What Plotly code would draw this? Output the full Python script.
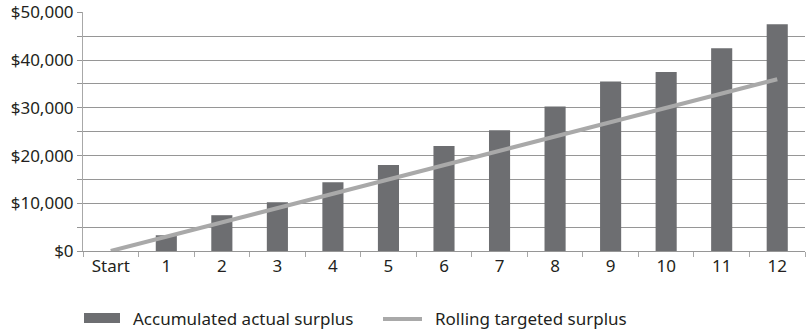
import plotly.graph_objects as go

categories = ["Start", "1", "2", "3", "4", "5", "6", "7", "8", "9", "10", "11", "12"]
actual_surplus = [None, 3300, 7500, 10200, 14400, 18000, 22000, 25300, 30300, 35500, 37500, 42500, 47500]
targeted_surplus = [0, 3000, 6000, 9000, 12000, 15000, 18000, 21000, 24000, 27000, 30000, 33000, 36000]
y_tickvals = [0, 10000, 20000, 30000, 40000, 50000]
y_ticktext = ["$0", "$10,000", "$20,000", "$30,000", "$40,000", "$50,000"]
series_names = ["Accumulated actual surplus", "Rolling targeted surplus"]

FONT = "Noto Sans"
GRID = "#969696"
AXIS = "#a8a8a8"
TEXT = "#231f20"
BAR = "#6d6e71"
LINE = "#a9a9a9"

W, H = 806, 333
L, R, T, B = 83, 1, 12, 82
PW, PH = W - L - R, H - T - B


def px(x):
    return (x - L) / PW


def py(y):
    return (H - B - y) / PH


fig = go.Figure()
fig.add_trace(go.Bar(
    x=categories, y=actual_surplus, name=series_names[0],
    marker=dict(color=BAR, line=dict(width=0)), width=0.38,
))
fig.add_trace(go.Scatter(
    x=categories, y=targeted_surplus, name=series_names[1],
    mode="lines", line=dict(color=LINE, width=4),
))

# manual legend
fig.add_shape(type="rect", xref="paper", yref="paper",
              x0=px(84), x1=px(120), y0=py(323), y1=py(313),
              fillcolor=BAR, line=dict(width=0))
fig.add_shape(type="line", xref="paper", yref="paper",
              x0=px(383), x1=px(422), y0=py(319), y1=py(319),
              line=dict(color=LINE, width=4))
fig.add_annotation(text=series_names[0], xref="paper", yref="paper",
                   x=px(131), y=py(318), xanchor="left", yanchor="middle",
                   showarrow=False, font=dict(family=FONT, size=17, color=TEXT))
fig.add_annotation(text=series_names[1], xref="paper", yref="paper",
                   x=px(433), y=py(318), xanchor="left", yanchor="middle",
                   showarrow=False, font=dict(family=FONT, size=17, color=TEXT))

fig.update_layout(
    width=W, height=H,
    margin=dict(l=L, r=R, t=T, b=B),
    paper_bgcolor="white", plot_bgcolor="white",
    font=dict(family=FONT, size=17, color=TEXT),
    showlegend=False,
)
fig.update_xaxes(
    type="category", showgrid=False, showline=True, linecolor=GRID, linewidth=1,
    ticks="outside", tickson="boundaries", ticklen=5, tickcolor=AXIS,
    tickfont=dict(family=FONT, size=17, color=TEXT), automargin=False,
)
fig.update_yaxes(
    range=[0, 50080], tickvals=y_tickvals, ticktext=y_ticktext,
    showgrid=True, gridcolor=GRID, gridwidth=1,
    showline=True, linecolor=AXIS, linewidth=1,
    ticks="outside", ticklen=5, tickcolor=GRID,
    minor=dict(dtick=5000, tick0=0, showgrid=True, gridcolor=GRID, ticks="outside", ticklen=5, tickcolor=GRID),
    zeroline=False, tickfont=dict(family=FONT, size=17, color=TEXT), automargin=False,
)

fig.write_html(
    "out.html",
    config={"displayModeBar": False},
    post_script="document.body.style.margin='0';document.body.style.overflow='hidden';",
)
